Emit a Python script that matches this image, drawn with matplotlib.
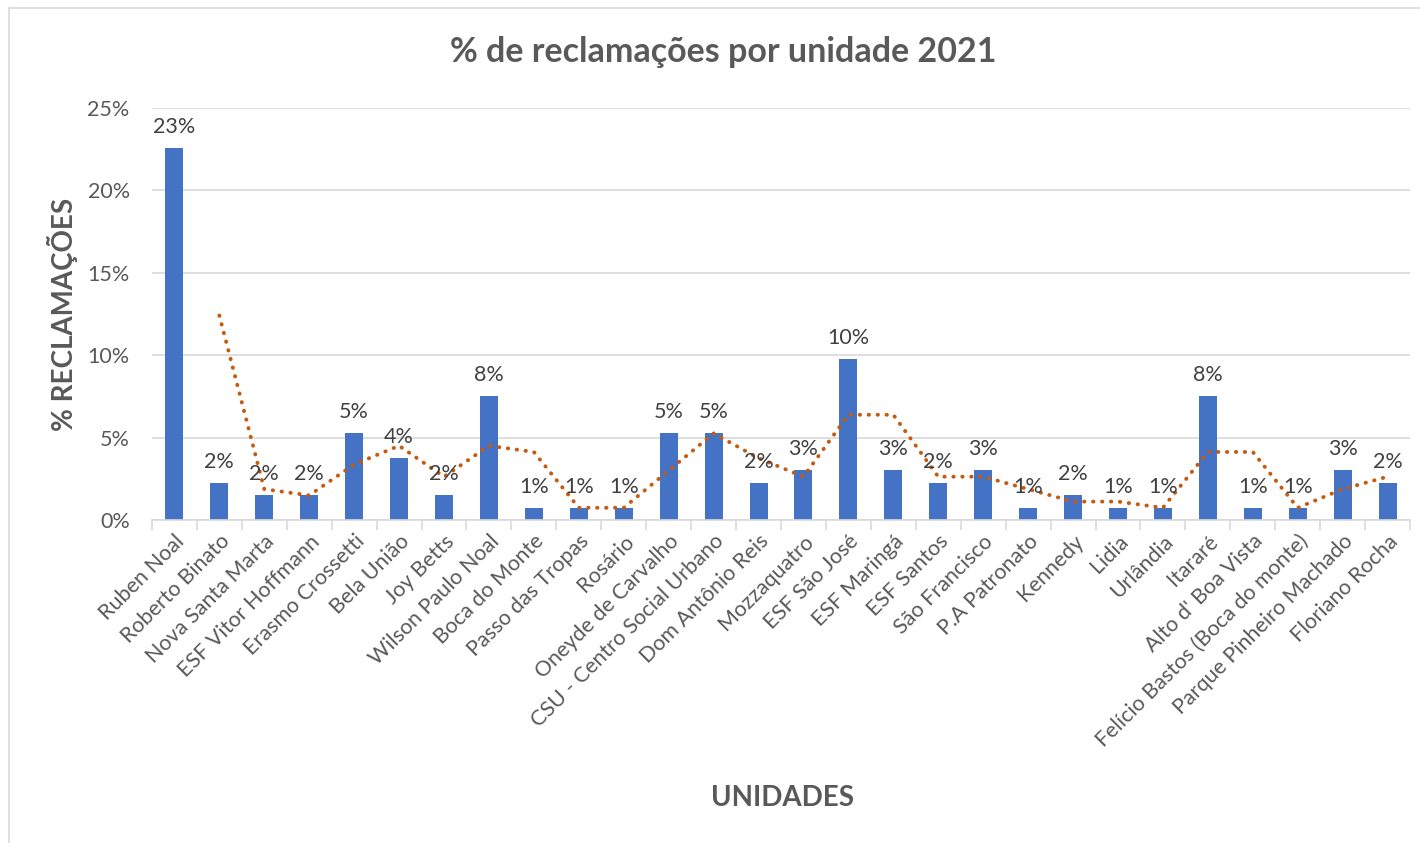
import matplotlib.pyplot as plt
from matplotlib.patches import Rectangle
from matplotlib.ticker import PercentFormatter, FixedLocator
import numpy as np
import pandas as pd

plt.rcParams['font.family'] = ['Lato', 'DejaVu Sans']

unidades = ['Ruben Noal', 'Roberto Binato', 'Nova Santa Marta', 'ESF Vitor Hoffmann',
            'Erasmo Crossetti', 'Bela União', 'Joy Betts', 'Wilson Paulo Noal',
            'Boca do Monte', 'Passo das Tropas', 'Rosário', 'Oneyde de Carvalho',
            'CSU - Centro Social Urbano', 'Dom Antônio Reis', 'Mozzaquatro',
            'ESF São José', 'ESF Maringá', 'ESF Santos', 'São Francisco',
            'P.A Patronato', 'Kennedy', 'Lidia', 'Urlândia', 'Itararé',
            "Alto d' Boa Vista", 'Felício Bastos (Boca do monte)',
            'Parque Pinheiro Machado', 'Floriano Rocha']
percentual = [0.2256, 0.0226, 0.0150, 0.0150, 0.0526, 0.0376, 0.0150, 0.0752,
              0.0075, 0.0075, 0.0075, 0.0526, 0.0526, 0.0226, 0.0301, 0.0977,
              0.0301, 0.0226, 0.0301, 0.0075, 0.0150, 0.0075, 0.0075, 0.0752,
              0.0075, 0.0075, 0.0301, 0.0226]

# media movel de 2 periodos (linha de tendencia)
media_movel = pd.Series(percentual).rolling(2).mean()

cinza = '#595959'
fig = plt.figure(figsize=(14.2, 8.43), dpi=100)
fig.patches.append(Rectangle((0.006, -0.01), 1.1, 1.0, transform=fig.transFigure,
                             fill=False, edgecolor='#d9d9d9', linewidth=1.2))
ax = fig.add_axes([0.107, 0.383, 0.886, 0.489])

x = np.arange(len(unidades))
ax.bar(x, percentual, width=0.4, color='#4472C4', zorder=2)
ax.plot(x, media_movel, color='#C55A11', linestyle=(0, (0.1, 2.2)), linewidth=2.8,
        dash_capstyle='round', zorder=3)

for xi, v in zip(x, percentual):
    ax.annotate(f'{v:.0%}', (xi, v), xytext=(0, 8), textcoords='offset points',
                ha='center', va='bottom', fontsize=15.5, color='#404040', zorder=4)

ax.set_xlim(-0.5, len(unidades) - 0.5)
ax.set_ylim(0, 0.25)
ax.set_yticks(np.arange(0, 0.26, 0.05))
ax.yaxis.set_major_formatter(PercentFormatter(1.0, decimals=0))
ax.grid(axis='y', color='#d9d9d9', linewidth=1.2, zorder=0)
ax.tick_params(axis='y', length=0, labelsize=15.5, labelcolor=cinza, pad=16)

ax.set_xticks(x)
ax.set_xticklabels(unidades, rotation=45, ha='right', rotation_mode='anchor',
                   fontsize=15.5, color=cinza)
ax.tick_params(axis='x', length=0, pad=8)
ax.xaxis.set_minor_locator(FixedLocator(np.arange(-0.5, len(unidades), 1)))
ax.tick_params(axis='x', which='minor', length=7, color='#d9d9d9', width=1.2)

for s in ['top', 'right', 'left']:
    ax.spines[s].set_visible(False)
ax.spines['bottom'].set_color('#d9d9d9')
ax.spines['bottom'].set_linewidth(1.2)

fig.text(0.509, 0.938, '% de reclamações por unidade 2021', ha='center', va='center',
         fontsize=24.5, fontweight='bold', color=cinza)
fig.text(0.044, 0.627, '% RECLAMAÇÕES', rotation=90, ha='center', va='center',
         fontsize=20, fontweight='bold', color=cinza)
fig.text(0.551, 0.053, 'UNIDADES', ha='center', va='center',
         fontsize=20, fontweight='bold', color=cinza)

fig.savefig('out.png', dpi=100)
